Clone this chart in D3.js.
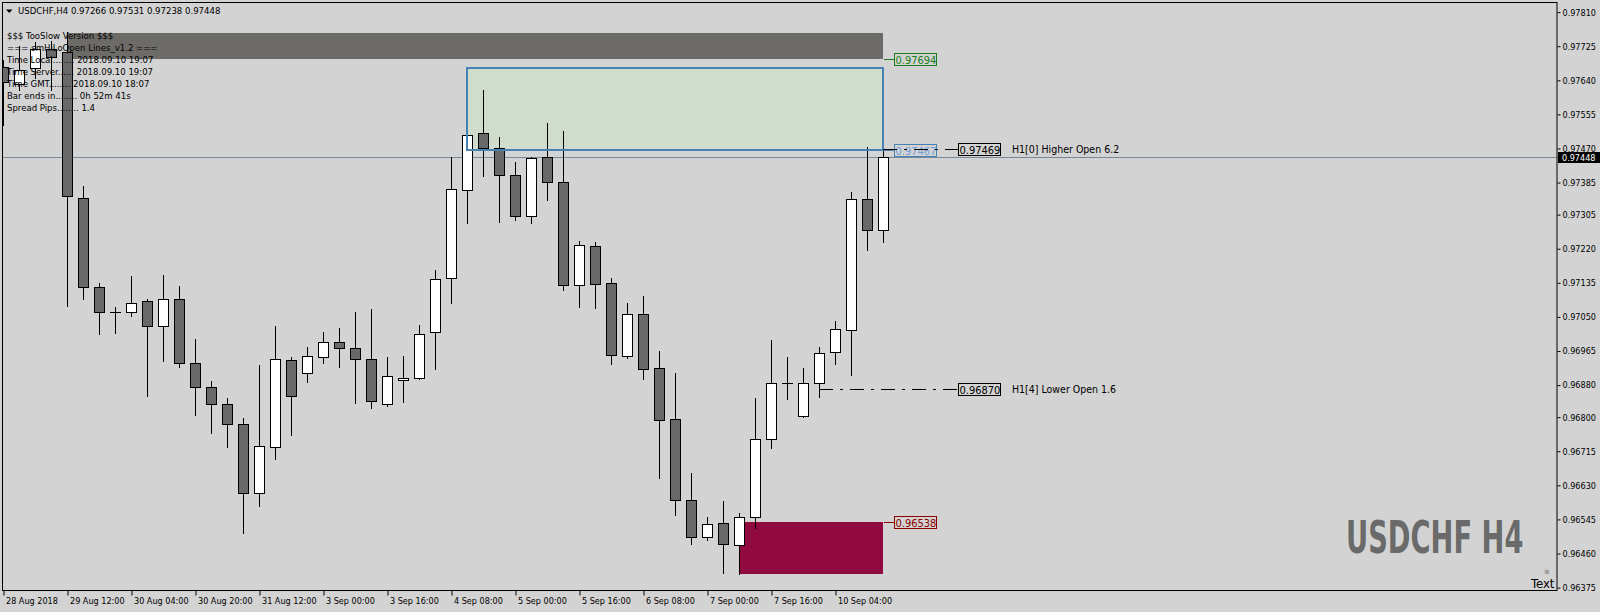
<!DOCTYPE html>
<html><head><meta charset="utf-8">
<script src="https://cdn.jsdelivr.net/npm/d3@7"></script>
<style>
html,body{margin:0;padding:0;background:#d3d3d3;overflow:hidden;}
svg{display:block;}
text{font-family:'DejaVu Sans Condensed','Noto Sans',sans-serif;}
</style></head><body>
<svg id="c" width="1600" height="612"></svg>
<script>
// ---------------- DATA ----------------
const symbol = "USDCHF,H4";
const barTimes = [
"2018.08.28 20:00","2018.08.29 00:00","2018.08.29 04:00","2018.08.29 08:00","2018.08.29 12:00","2018.08.29 16:00","2018.08.29 20:00",
"2018.08.30 00:00","2018.08.30 04:00","2018.08.30 08:00","2018.08.30 12:00","2018.08.30 16:00","2018.08.30 20:00",
"2018.08.31 00:00","2018.08.31 04:00","2018.08.31 08:00","2018.08.31 12:00","2018.08.31 16:00","2018.08.31 20:00",
"2018.09.02 20:00","2018.09.03 00:00","2018.09.03 04:00","2018.09.03 08:00","2018.09.03 12:00","2018.09.03 16:00","2018.09.03 20:00",
"2018.09.04 00:00","2018.09.04 04:00","2018.09.04 08:00","2018.09.04 12:00","2018.09.04 16:00","2018.09.04 20:00",
"2018.09.05 00:00","2018.09.05 04:00","2018.09.05 08:00","2018.09.05 12:00","2018.09.05 16:00","2018.09.05 20:00",
"2018.09.06 00:00","2018.09.06 04:00","2018.09.06 08:00","2018.09.06 12:00","2018.09.06 16:00","2018.09.06 20:00",
"2018.09.07 00:00","2018.09.07 04:00","2018.09.07 08:00","2018.09.07 12:00","2018.09.07 16:00","2018.09.07 20:00",
"2018.09.09 20:00","2018.09.10 00:00","2018.09.10 04:00","2018.09.10 08:00","2018.09.10 12:00","2018.09.10 16:00"];
const openP  = [0.97674,0.97631,0.97670,0.97717,0.97711,0.97347,0.97125,0.97063,0.97063,0.97089,0.97027,0.97095,0.96934,0.96874,0.96832,0.96782,0.96610,0.96725,0.96942,0.96909,0.96949,0.96987,0.96972,0.96944,0.96832,0.96892,0.96897,0.97012,0.97146,0.97366,0.97508,0.97470,0.97403,0.97301,0.97448,0.97386,0.97129,0.97226,0.97134,0.96952,0.97057,0.96922,0.96795,0.96593,0.96500,0.96535,0.96480,0.96550,0.96745,0.96886,0.96802,0.96884,0.96962,0.97017,0.97343,0.97266];
const highP  = [0.97691,0.97726,0.97736,0.97738,0.97760,0.97376,0.97135,0.97075,0.97152,0.97095,0.97155,0.97127,0.96995,0.96891,0.96847,0.96797,0.96930,0.97027,0.96950,0.96975,0.97012,0.97022,0.97062,0.97070,0.96950,0.96952,0.97030,0.97167,0.97449,0.97506,0.97616,0.97499,0.97436,0.97449,0.97534,0.97514,0.97239,0.97236,0.97146,0.97085,0.97102,0.96965,0.96909,0.96661,0.96552,0.96591,0.96560,0.96848,0.96992,0.96950,0.96923,0.96975,0.97040,0.97361,0.97474,0.97531];
const lowP   = [0.97529,0.97616,0.97646,0.97616,0.97077,0.97095,0.97007,0.97011,0.97052,0.96853,0.96940,0.96926,0.96805,0.96761,0.96726,0.96512,0.96579,0.96696,0.96756,0.96888,0.96936,0.96926,0.96836,0.96824,0.96829,0.96839,0.96895,0.96919,0.97085,0.97285,0.97402,0.97287,0.97292,0.97285,0.97342,0.97117,0.97075,0.97073,0.96932,0.96948,0.96894,0.96648,0.96557,0.96484,0.96494,0.96411,0.96410,0.96523,0.96724,0.96846,0.96800,0.96851,0.96933,0.96906,0.97218,0.97238];
const closeP = [0.97637,0.97666,0.97718,0.97697,0.97352,0.97125,0.97062,0.97063,0.97084,0.97027,0.97095,0.96934,0.96874,0.96832,0.96782,0.96612,0.96727,0.96944,0.96852,0.96952,0.96987,0.96972,0.96944,0.96840,0.96902,0.96897,0.97007,0.97144,0.97368,0.97503,0.97470,0.97403,0.97301,0.97446,0.97386,0.97129,0.97229,0.97131,0.96954,0.97057,0.96919,0.96792,0.96593,0.96500,0.96533,0.96483,0.96550,0.96745,0.96884,0.96886,0.96884,0.96959,0.97019,0.97343,0.97266,0.97448];

const timeTickIndex = [0,4,8,12,16,20,24,28,32,36,40,44,48,52];
const timeTickLabels = ["28 Aug 2018","29 Aug 12:00","30 Aug 04:00","30 Aug 20:00","31 Aug 12:00","3 Sep 00:00","3 Sep 16:00","4 Sep 08:00","5 Sep 00:00","5 Sep 16:00","6 Sep 08:00","7 Sep 00:00","7 Sep 16:00","10 Sep 04:00"];
const priceTicks = [0.97810,0.97725,0.97640,0.97555,0.97470,0.97385,0.97305,0.97220,0.97135,0.97050,0.96965,0.96880,0.96800,0.96715,0.96630,0.96545,0.96460,0.96375];

// zones (range band, supply box, demand box)
const zoneStart  = [4, 29, 46];
const zoneTop    = [0.97757, 0.97670, 0.96538];
const zoneBottom = [0.97694, 0.97467, 0.96410];
const zoneLabel  = [0.97694, 0.97467, 0.96538];

// H1 open lines
const h1Start = [55, 51];
const h1Price = [0.97469, 0.96870];
const h1Text  = ["H1[0] Higher Open 6.2", "H1[4] Lower Open 1.6"];

const infoLines = ["$$$ TooSlow Version $$$","=== smHiLoOpen Lines_v1.2 ===","Time Local........ 2018.09.10 19:07","Time Server...... 2018.09.10 19:07","Time GMT........ 2018.09.10 18:07","Bar ends in........ 0h 52m 41s","Spread Pips........ 1.4"];
const watermark = "USDCHF H4";

// ---------------- DRAW ----------------
const W=1600,H=612,L=3,T=3,R=1557,B=591;
const fmt = d3.format(".5f");
const svg = d3.select('#c');
const x = d3.scalePoint().domain(barTimes).range([3,883]);
const y = d3.scaleLinear().domain([0.963665,0.978328]).range([B,T]);
const cx = i => Math.round(x(barTimes[i]));
const py = p => Math.round(y(p));
const last = barTimes.length-1;

svg.append('rect').attr('width',W).attr('height',H).attr('fill','#d3d3d3');
svg.append('defs').append('clipPath').attr('id','plot')
  .append('rect').attr('x',L).attr('y',T).attr('width',R-L).attr('height',B-T);
const g = svg.append('g').attr('clip-path','url(#plot)');

// watermark
svg.append('text').attr('transform','translate(1346,553) scale(0.69,1)').text(watermark)
  .attr('font-family','Liberation Sans, sans-serif')
  .attr('font-weight','bold').attr('font-size',44).attr('fill','#6a6a6a');

// zones (fill behind candles)
const zoneFill = ['#6d6b67','#d0dccc','#910a3f'];
const zoneStroke = ['none','#4682b4','none'];
g.selectAll('rect.zone').data(zoneStart).join('rect').attr('class','zone')
  .attr('x',(d)=>cx(d))
  .attr('y',(d,i)=>py(zoneTop[i]))
  .attr('width',d=>cx(last)-cx(d))
  .attr('height',(d,i)=>py(zoneBottom[i])-py(zoneTop[i]))
  .attr('fill',(d,i)=>zoneFill[i]);

// current price line
const cur = closeP[last];
g.append('line').attr('x1',L).attr('x2',R).attr('y1',py(cur)+0.5).attr('y2',py(cur)+0.5)
  .attr('stroke','#778899').attr('stroke-width',1);

// candles
const cg = g.append('g');
barTimes.forEach((t,i)=>{
  const c = cx(i);
  const o=openP[i], cl=closeP[i];
  cg.append('line').attr('x1',c+0.5).attr('x2',c+0.5)
    .attr('y1',py(highP[i])).attr('y2',py(lowP[i])+1)
    .attr('stroke','#000').attr('stroke-width',1);
  if (o===cl){
    cg.append('line').attr('x1',c-5).attr('x2',c+6).attr('y1',py(o)+0.5).attr('y2',py(o)+0.5)
      .attr('stroke','#000');
  } else {
    const top = py(Math.max(o,cl)), bot = py(Math.min(o,cl));
    cg.append('rect').attr('x',c-5+0.5).attr('y',top+0.5).attr('width',10).attr('height',Math.max(1,bot-top))
      .attr('fill', cl>o ? '#ffffff' : '#696969').attr('stroke','#000').attr('stroke-width',1);
  }
});

// zone borders on top of candles
g.selectAll('rect.zoneb').data(zoneStart).join('rect').attr('class','zoneb')
  .attr('x',(d)=>cx(d))
  .attr('y',(d,i)=>py(zoneTop[i]))
  .attr('width',d=>cx(last)-cx(d))
  .attr('height',(d,i)=>py(zoneBottom[i])-py(zoneTop[i]))
  .attr('fill','none')
  .attr('stroke',(d,i)=>zoneStroke[i]).attr('stroke-width',2);

// zone price labels
const lblText = ['#1a7f1a','#6f9fd8','#8b0000'];
const lblStroke = ['#1a7f1a','#4682b4','#8b0000'];
zoneLabel.forEach((p,i)=>{
  const yy = py(p);
  g.append('line').attr('x1',cx(last)+1).attr('x2',894).attr('y1',yy+0.5).attr('y2',yy+0.5).attr('stroke',lblStroke[i]);
  g.append('rect').attr('x',894.5).attr('y',yy-5.5).attr('width',42).attr('height',12)
    .attr('fill','none').attr('stroke',lblStroke[i]);
  g.append('text').attr('x',895.5).attr('y',yy+4.5).attr('font-size',11)
    .attr('font-family','Liberation Sans, sans-serif').attr('fill',lblText[i]).text(fmt(p));
});

// H1 open lines
h1Price.forEach((p,i)=>{
  const yy = py(p);
  g.append('line').attr('x1',cx(h1Start[i])).attr('x2',958).attr('y1',yy+0.5).attr('y2',yy+0.5)
    .attr('stroke','#000').attr('stroke-dasharray','14,7,3,7');
  g.append('rect').attr('x',958.5).attr('y',yy-5.5).attr('width',42).attr('height',12)
    .attr('fill','none').attr('stroke','#000');
  g.append('text').attr('x',959.5).attr('y',yy+4.5).attr('font-size',11)
    .attr('font-family','Liberation Sans, sans-serif').attr('fill','#000').text(fmt(p));
  g.append('text').attr('x',1012).attr('y',yy+4).attr('font-size',10.5)
    .attr('font-family','Liberation Sans, sans-serif').attr('fill','#000').text(h1Text[i]);
});

// info text
svg.append('path').attr('d','M6,9.5 L12.5,9.5 L9.25,13 Z').attr('fill','#000');
svg.append('text').attr('x',18).attr('y',14).attr('font-size',9.5).attr('fill','#000')
  .text(symbol+"  "+[openP[last],highP[last],lowP[last],closeP[last]].map(fmt).join(' '));
svg.selectAll('text.info').data(infoLines).join('text').attr('class','info')
  .attr('x',7).attr('y',(d,i)=>39+i*12).attr('font-size',9.5).attr('fill','#000').text(d=>d);

// bottom-right "Text" object
svg.append('text').attr('x',1547).attr('y',574).attr('font-size',8).attr('fill','#666')
  .attr('font-family','DejaVu Sans').attr('text-anchor','middle').text('\u2620');
svg.append('text').attr('x',1531).attr('y',588).attr('font-size',13)
  .attr('font-family','Liberation Sans, sans-serif').attr('fill','#000').text('Text');

// frame
svg.append('rect').attr('x',2.5).attr('y',2.5).attr('width',R-2.5).attr('height',B-3)
  .attr('fill','none').attr('stroke','#000');

// price axis
const ya = d3.axisRight(y).tickValues(priceTicks).tickSize(3).tickPadding(2).tickFormat(fmt);
const yg = svg.append('g').attr('transform',`translate(${R+0.5},0)`).call(ya);
yg.select('.domain').remove();
yg.selectAll('text').attr('font-size',9).attr('fill','#000')
  .attr('font-family',"'DejaVu Sans Condensed','Noto Sans',sans-serif");
yg.selectAll('line').attr('stroke','#000');

// current price tag
svg.append('rect').attr('x',R+1).attr('y',py(cur)-5).attr('width',W-R-1).attr('height',11).attr('fill','#000');
svg.append('text').attr('x',R+5).attr('y',py(cur)+4).attr('font-size',9).attr('fill','#fff').text(fmt(cur));

// time axis
const xa = d3.axisBottom(x).tickValues(timeTickIndex.map(i=>barTimes[i])).tickSize(5).tickPadding(2)
  .tickFormat((d,i)=>timeTickLabels[i]);
const xg = svg.append('g').attr('transform',`translate(0.5,${B-0.5})`).call(xa);
xg.select('.domain').remove();
xg.selectAll('text').attr('text-anchor','start').attr('x',2).attr('font-size',9).attr('fill','#000')
  .attr('font-family',"'DejaVu Sans Condensed','Noto Sans',sans-serif");
xg.selectAll('line').attr('stroke','#000');
</script>
</body></html>
